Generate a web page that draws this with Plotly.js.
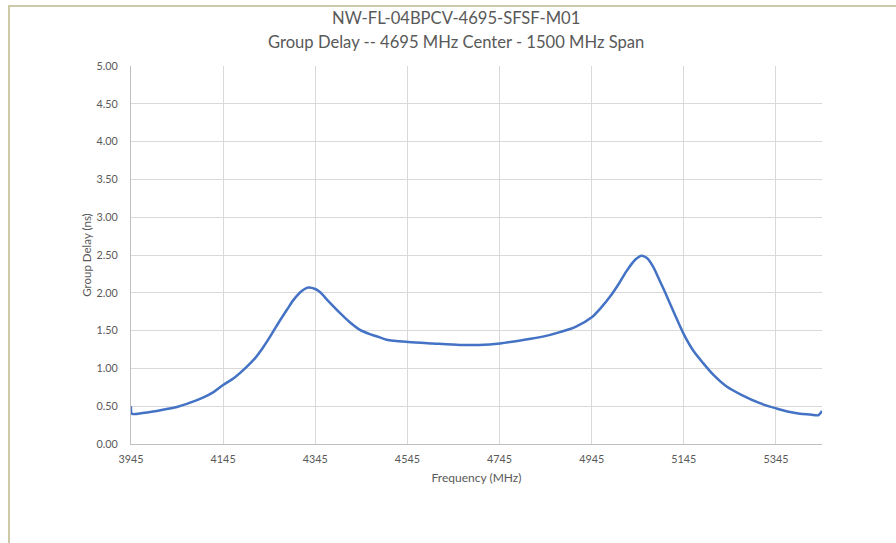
<!DOCTYPE html>
<html>
<head>
<meta charset="utf-8">
<script src="https://cdn.plot.ly/plotly-3.0.1.min.js"></script>
<style>
  html, body { margin: 0; padding: 0; background: #ffffff; }
  #frame { position: absolute; left: 8px; top: 5px; width: 900px; height: 560px;
           border-left: 2px solid #cdc8a6; border-top: 2px solid #cdc8a6; }
  #chart { position: absolute; left: 0; top: 0; width: 896px; height: 543px; }
</style>
</head>
<body>
<div id="frame"></div>
<div id="chart"></div>
<script>
const freqMHz = [3945, 3947, 3970, 3993, 4020, 4045, 4066, 4100, 4125, 4145, 4170, 4196, 4215, 4232, 4250,
  4269, 4285, 4297, 4315, 4330, 4345, 4355, 4375, 4399, 4420, 4442, 4465, 4485, 4500, 4547, 4600, 4659,
  4700, 4746, 4790, 4839, 4876, 4910, 4946, 4965, 4985, 5005, 5021, 5040, 5053, 5065, 5078, 5092, 5107,
  5125, 5146, 5165, 5187, 5210, 5238, 5270, 5310, 5346, 5370, 5397, 5420, 5437, 5442, 5445];
const groupDelayNs = [0.50, 0.40, 0.41, 0.43, 0.46, 0.49, 0.53, 0.61, 0.69, 0.78, 0.88, 1.02, 1.14, 1.28, 1.45,
  1.64, 1.79, 1.90, 2.02, 2.07, 2.05, 2.01, 1.88, 1.73, 1.61, 1.51, 1.45, 1.41, 1.38, 1.35, 1.33, 1.31,
  1.31, 1.33, 1.37, 1.42, 1.48, 1.55, 1.68, 1.80, 1.95, 2.13, 2.29, 2.44, 2.49, 2.46, 2.35, 2.17, 1.97,
  1.72, 1.44, 1.24, 1.07, 0.91, 0.76, 0.65, 0.54, 0.47, 0.43, 0.40, 0.39, 0.38, 0.41, 0.44];
const xTickVals = [3945, 4145, 4345, 4545, 4745, 4945, 5145, 5345];
const yTickVals = [0, 0.5, 1, 1.5, 2, 2.5, 3, 3.5, 4, 4.5, 5];
const titleLine1 = 'NW-FL-04BPCV-4695-SFSF-M01';
const titleLine2 = 'Group Delay -- 4695 MHz Center - 1500 MHz Span';

const font = 'Lato, sans-serif';
const grey = '#595959';

Plotly.newPlot('chart', [{
  x: freqMHz, y: groupDelayNs, type: 'scatter', mode: 'lines',
  line: { color: '#4472C4', width: 2.5, shape: 'spline', smoothing: 0.8 },
  hoverinfo: 'x+y'
}], {
  width: 896, height: 543,
  paper_bgcolor: 'rgba(0,0,0,0)', plot_bgcolor: '#ffffff',
  margin: { l: 131, r: 74, t: 66, b: 99 },
  showlegend: false,
  font: { family: font, color: grey },
  annotations: [
    { text: titleLine1, xref: 'paper', yref: 'paper', x: (456 - 131) / 691, y: (444 - 18) / 378,
      xanchor: 'center', yanchor: 'middle', showarrow: false, font: { size: 16.6, color: grey, family: font } },
    { text: titleLine2, xref: 'paper', yref: 'paper', x: (456 - 131) / 691, y: (444 - 42) / 378,
      xanchor: 'center', yanchor: 'middle', showarrow: false, font: { size: 16.6, color: grey, family: font } }
  ],
  xaxis: {
    range: [3945, 5445], tickvals: xTickVals, ticktext: xTickVals.map(String),
    showgrid: true, gridcolor: '#d9d9d9', gridwidth: 1,
    showline: true, linecolor: '#bfbfbf', linewidth: 1, zeroline: false,
    ticks: '', tickfont: { size: 10.8, color: grey }, ticklabelstandoff: 5,
    title: { text: 'Frequency (MHz)', font: { size: 12, color: grey }, standoff: 9 }
  },
  yaxis: {
    range: [0, 5], tickvals: yTickVals, tickformat: '.2f',
    showgrid: true, gridcolor: '#d9d9d9', gridwidth: 1,
    showline: true, linecolor: '#bfbfbf', linewidth: 1, zeroline: false,
    ticks: '', tickfont: { size: 10.8, color: grey }, ticklabelstandoff: 10,
    title: { text: 'Group Delay (ns)', font: { size: 11.5, color: grey }, standoff: 2 }
  }
}, { displayModeBar: false, staticPlot: true });
</script>
</body>
</html>
